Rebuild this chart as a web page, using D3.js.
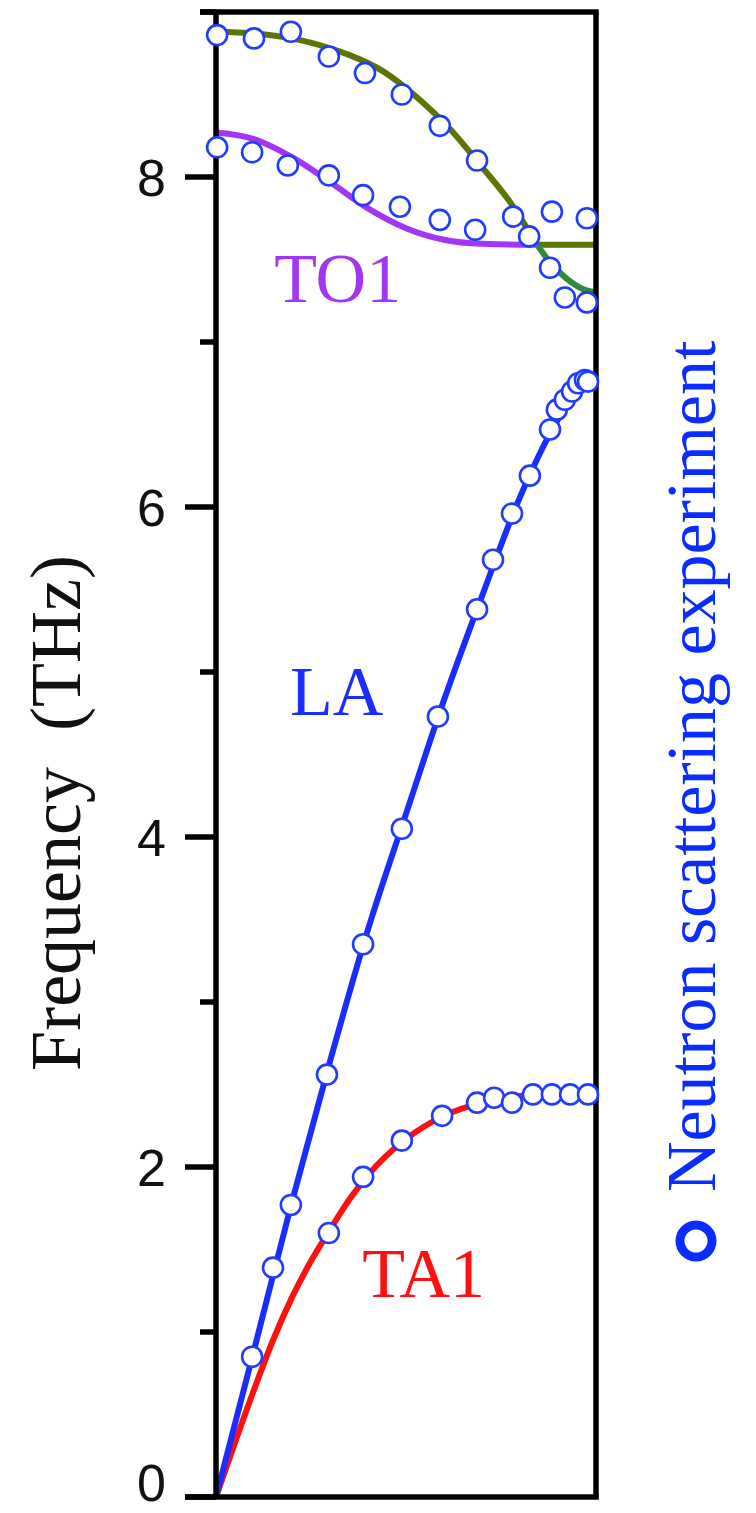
<!DOCTYPE html>
<html>
<head>
<meta charset="utf-8">
<script src="https://cdn.jsdelivr.net/npm/d3@7"></script>
<style>
    html, body { margin: 0; padding: 0; background: #fff; }
    svg { display: block; }
    .serif { font-family: 'Liberation Serif', 'Times New Roman', serif; }
    .sans  { font-family: 'Liberation Sans', Arial, sans-serif; }
</style>
</head>
<body>
<div id="chart"></div>
<script>
'use strict';

// Phonon dispersion: reduced wave vector q (0..1) against frequency in THz.

// Calculated branches (solid lines).
var laQ       = [0, 0.1, 0.2, 0.3, 0.4, 0.5, 0.6, 0.7, 0.8, 0.9, 0.95, 1.0];
var laF       = [0, 0.89, 1.79, 2.64, 3.44, 4.14, 4.83, 5.46, 6.06, 6.53, 6.70, 6.78];

var ta1Q      = [0, 0.05, 0.1, 0.15, 0.2, 0.25, 0.3, 0.35, 0.4, 0.5, 0.6, 0.7, 0.8, 0.9, 1.0];
var ta1F      = [0, 0.33, 0.65, 0.95, 1.21, 1.43, 1.62, 1.80, 1.95, 2.17, 2.31, 2.39, 2.43, 2.44, 2.44];

var to1Q      = [0, 0.1, 0.2, 0.3, 0.4, 0.5, 0.6, 0.7, 0.8, 0.845];
var to1F      = [8.27, 8.23, 8.12, 7.97, 7.81, 7.69, 7.62, 7.595, 7.59, 7.59];
var to1TailQ  = [0.845, 1.0];
var to1TailF  = [7.59, 7.59];

var upperQ     = [0, 0.1, 0.2, 0.3, 0.35, 0.44, 0.53, 0.62, 0.7, 0.77, 0.845];
var upperF     = [8.88, 8.87, 8.84, 8.78, 8.74, 8.64, 8.48, 8.28, 8.06, 7.86, 7.59];
var upperTailQ = [0.845, 0.88, 0.925, 0.967, 1.0];
var upperTailF = [7.59, 7.48, 7.38, 7.32, 7.30];

// Neutron scattering measurements (open circles).
var laExpQ    = [0.095, 0.15, 0.197, 0.292, 0.387, 0.489, 0.584, 0.687, 0.729, 0.779, 0.826, 0.879, 0.897, 0.918, 0.937, 0.953, 0.971, 0.979];
var laExpF    = [0.85, 1.39, 1.77, 2.56, 3.35, 4.05, 4.73, 5.38, 5.68, 5.96, 6.19, 6.47, 6.59, 6.65, 6.70, 6.75, 6.77, 6.76];

var ta1ExpQ   = [0.297, 0.387, 0.489, 0.595, 0.687, 0.732, 0.779, 0.834, 0.884, 0.932, 0.979];
var ta1ExpF   = [1.60, 1.94, 2.16, 2.31, 2.39, 2.42, 2.39, 2.44, 2.44, 2.44, 2.44];

var to1ExpQ   = [0.003, 0.095, 0.189, 0.297, 0.387, 0.484, 0.589, 0.682, 0.782, 0.884, 0.976];
var to1ExpF   = [8.18, 8.15, 8.07, 8.01, 7.89, 7.82, 7.74, 7.68, 7.76, 7.79, 7.75];

var upperExpQ = [0.003, 0.1, 0.197, 0.297, 0.392, 0.489, 0.589, 0.687, 0.824, 0.879, 0.918, 0.976];
var upperExpF = [8.86, 8.84, 8.88, 8.73, 8.63, 8.50, 8.31, 8.10, 7.64, 7.45, 7.27, 7.24];

var yMajorTicks = [0, 2, 4, 6, 8];
var yMinorTicks = [1, 3, 5, 7, 9];

var labels = [
    {text: 'TO1', q: 0.153, f: 7.24, color: '#a335f5'},
    {text: 'LA',  q: 0.195, f: 4.74, color: '#1a2cff'},
    {text: 'TA1', q: 0.385, f: 1.21, color: '#ff1010'}
];

var zip = function (qs, fs) {
    return qs.map(function (q, i) { return {q: q, f: fs[i]}; });
};

var width  = 756,
    height = 1513,
    margin = {top: 12, right: 160, bottom: 16, left: 216};

var svg = d3.select('#chart').append('svg')
    .attr('width', width)
    .attr('height', height);

var x = d3.scaleLinear()
    .domain([0, 1])
    .range([margin.left, width - margin.right]);

var y = d3.scaleLinear()
    .domain([0, 9])
    .range([height - margin.bottom, margin.top]);

var line = d3.line()
    .x(function (d) { return x(d.q); })
    .y(function (d) { return y(d.f); })
    .curve(d3.curveMonotoneX);

// Draw the branches.
var branches = [
    {data: zip(upperQ, upperF),         color: '#5b7500'},
    {data: zip(to1TailQ, to1TailF),     color: '#5b7500'},
    {data: zip(upperTailQ, upperTailF), color: '#2f8a3c'},
    {data: zip(to1Q, to1F),             color: '#a335f5'},
    {data: zip(ta1Q, ta1F),             color: '#ff1010'},
    {data: zip(laQ, laF),               color: '#1a2cff'}
];

svg.append('g')
    .selectAll('path')
    .data(branches)
    .enter().append('path')
    .attr('d', function (d) { return line(d.data); })
    .attr('fill', 'none')
    .attr('stroke', function (d) { return d.color; })
    .attr('stroke-width', 6)
    .attr('stroke-linecap', 'butt');

// Frame and axis.
var frame = svg.append('g')
    .attr('stroke', '#000')
    .attr('stroke-width', 5.5)
    .attr('fill', 'none');

frame.append('line')
    .attr('x1', x(1)).attr('x2', x(1))
    .attr('y1', y(9)).attr('y2', y(0));

frame.append('line')
    .attr('x1', x(0)).attr('x2', x(0))
    .attr('y1', y(9)).attr('y2', y(0));

frame.append('line')
    .attr('x1', x(0) - 16).attr('x2', x(1) + 2.75)
    .attr('y1', y(9)).attr('y2', y(9));

frame.append('line')
    .attr('x1', x(0) - 31).attr('x2', x(1) + 2.75)
    .attr('y1', y(0)).attr('y2', y(0));

frame.selectAll('.major')
    .data(yMajorTicks)
    .enter().append('line')
    .attr('class', 'major')
    .attr('x1', x(0) - 31).attr('x2', x(0))
    .attr('y1', function (d) { return y(d); })
    .attr('y2', function (d) { return y(d); });

frame.selectAll('.minor')
    .data(yMinorTicks)
    .enter().append('line')
    .attr('class', 'minor')
    .attr('x1', x(0) - 16).attr('x2', x(0))
    .attr('y1', function (d) { return y(d); })
    .attr('y2', function (d) { return y(d); });

// The "0" sits right on the lower edge, so keep it inside the page.
svg.append('g')
    .selectAll('text')
    .data(yMajorTicks)
    .enter().append('text')
    .attr('class', 'sans')
    .attr('x', x(0) - 50)
    .attr('y', function (d) { return Math.min(y(d) + 19, height - 12); })
    .attr('text-anchor', 'end')
    .attr('font-size', 52)
    .attr('fill', '#111')
    .text(function (d) { return d; });

svg.append('text')
    .attr('class', 'serif')
    .attr('transform', 'translate(80,' + 813 + ') rotate(-90)')
    .attr('text-anchor', 'middle')
    .attr('font-size', 72)
    .attr('fill', '#111')
    .attr('xml:space', 'preserve')
    .style('white-space', 'pre')
    .text('Frequency  (THz)');

// Measured points.
var points = [].concat(
    zip(laExpQ, laExpF),
    zip(ta1ExpQ, ta1ExpF),
    zip(to1ExpQ, to1ExpF),
    zip(upperExpQ, upperExpF)
);

svg.append('g')
    .selectAll('circle')
    .data(points)
    .enter().append('circle')
    .attr('cx', function (d) { return x(d.q); })
    .attr('cy', function (d) { return y(d.f); })
    .attr('r', 10)
    .attr('fill', '#fff')
    .attr('stroke', '#1f3cff')
    .attr('stroke-width', 2.6);

// Branch labels.
svg.append('g')
    .selectAll('text')
    .data(labels)
    .enter().append('text')
    .attr('class', 'serif')
    .attr('x', function (d) { return x(d.q); })
    .attr('y', function (d) { return y(d.f); })
    .attr('font-size', 70)
    .attr('fill', function (d) { return d.color; })
    .text(function (d) { return d.text; });

// Legend, written sideways along the right edge.
var legend = svg.append('g');

legend.append('circle')
    .attr('cx', 696)
    .attr('cy', 1241)
    .attr('r', 16)
    .attr('fill', 'none')
    .attr('stroke', '#0a2cff')
    .attr('stroke-width', 9);

legend.append('text')
    .attr('class', 'serif')
    .attr('transform', 'translate(715,1192) rotate(-90)')
    .attr('font-size', 70)
    .attr('fill', '#0a2cff')
    .text('Neutron scattering experiment');
</script>
</body>
</html>
